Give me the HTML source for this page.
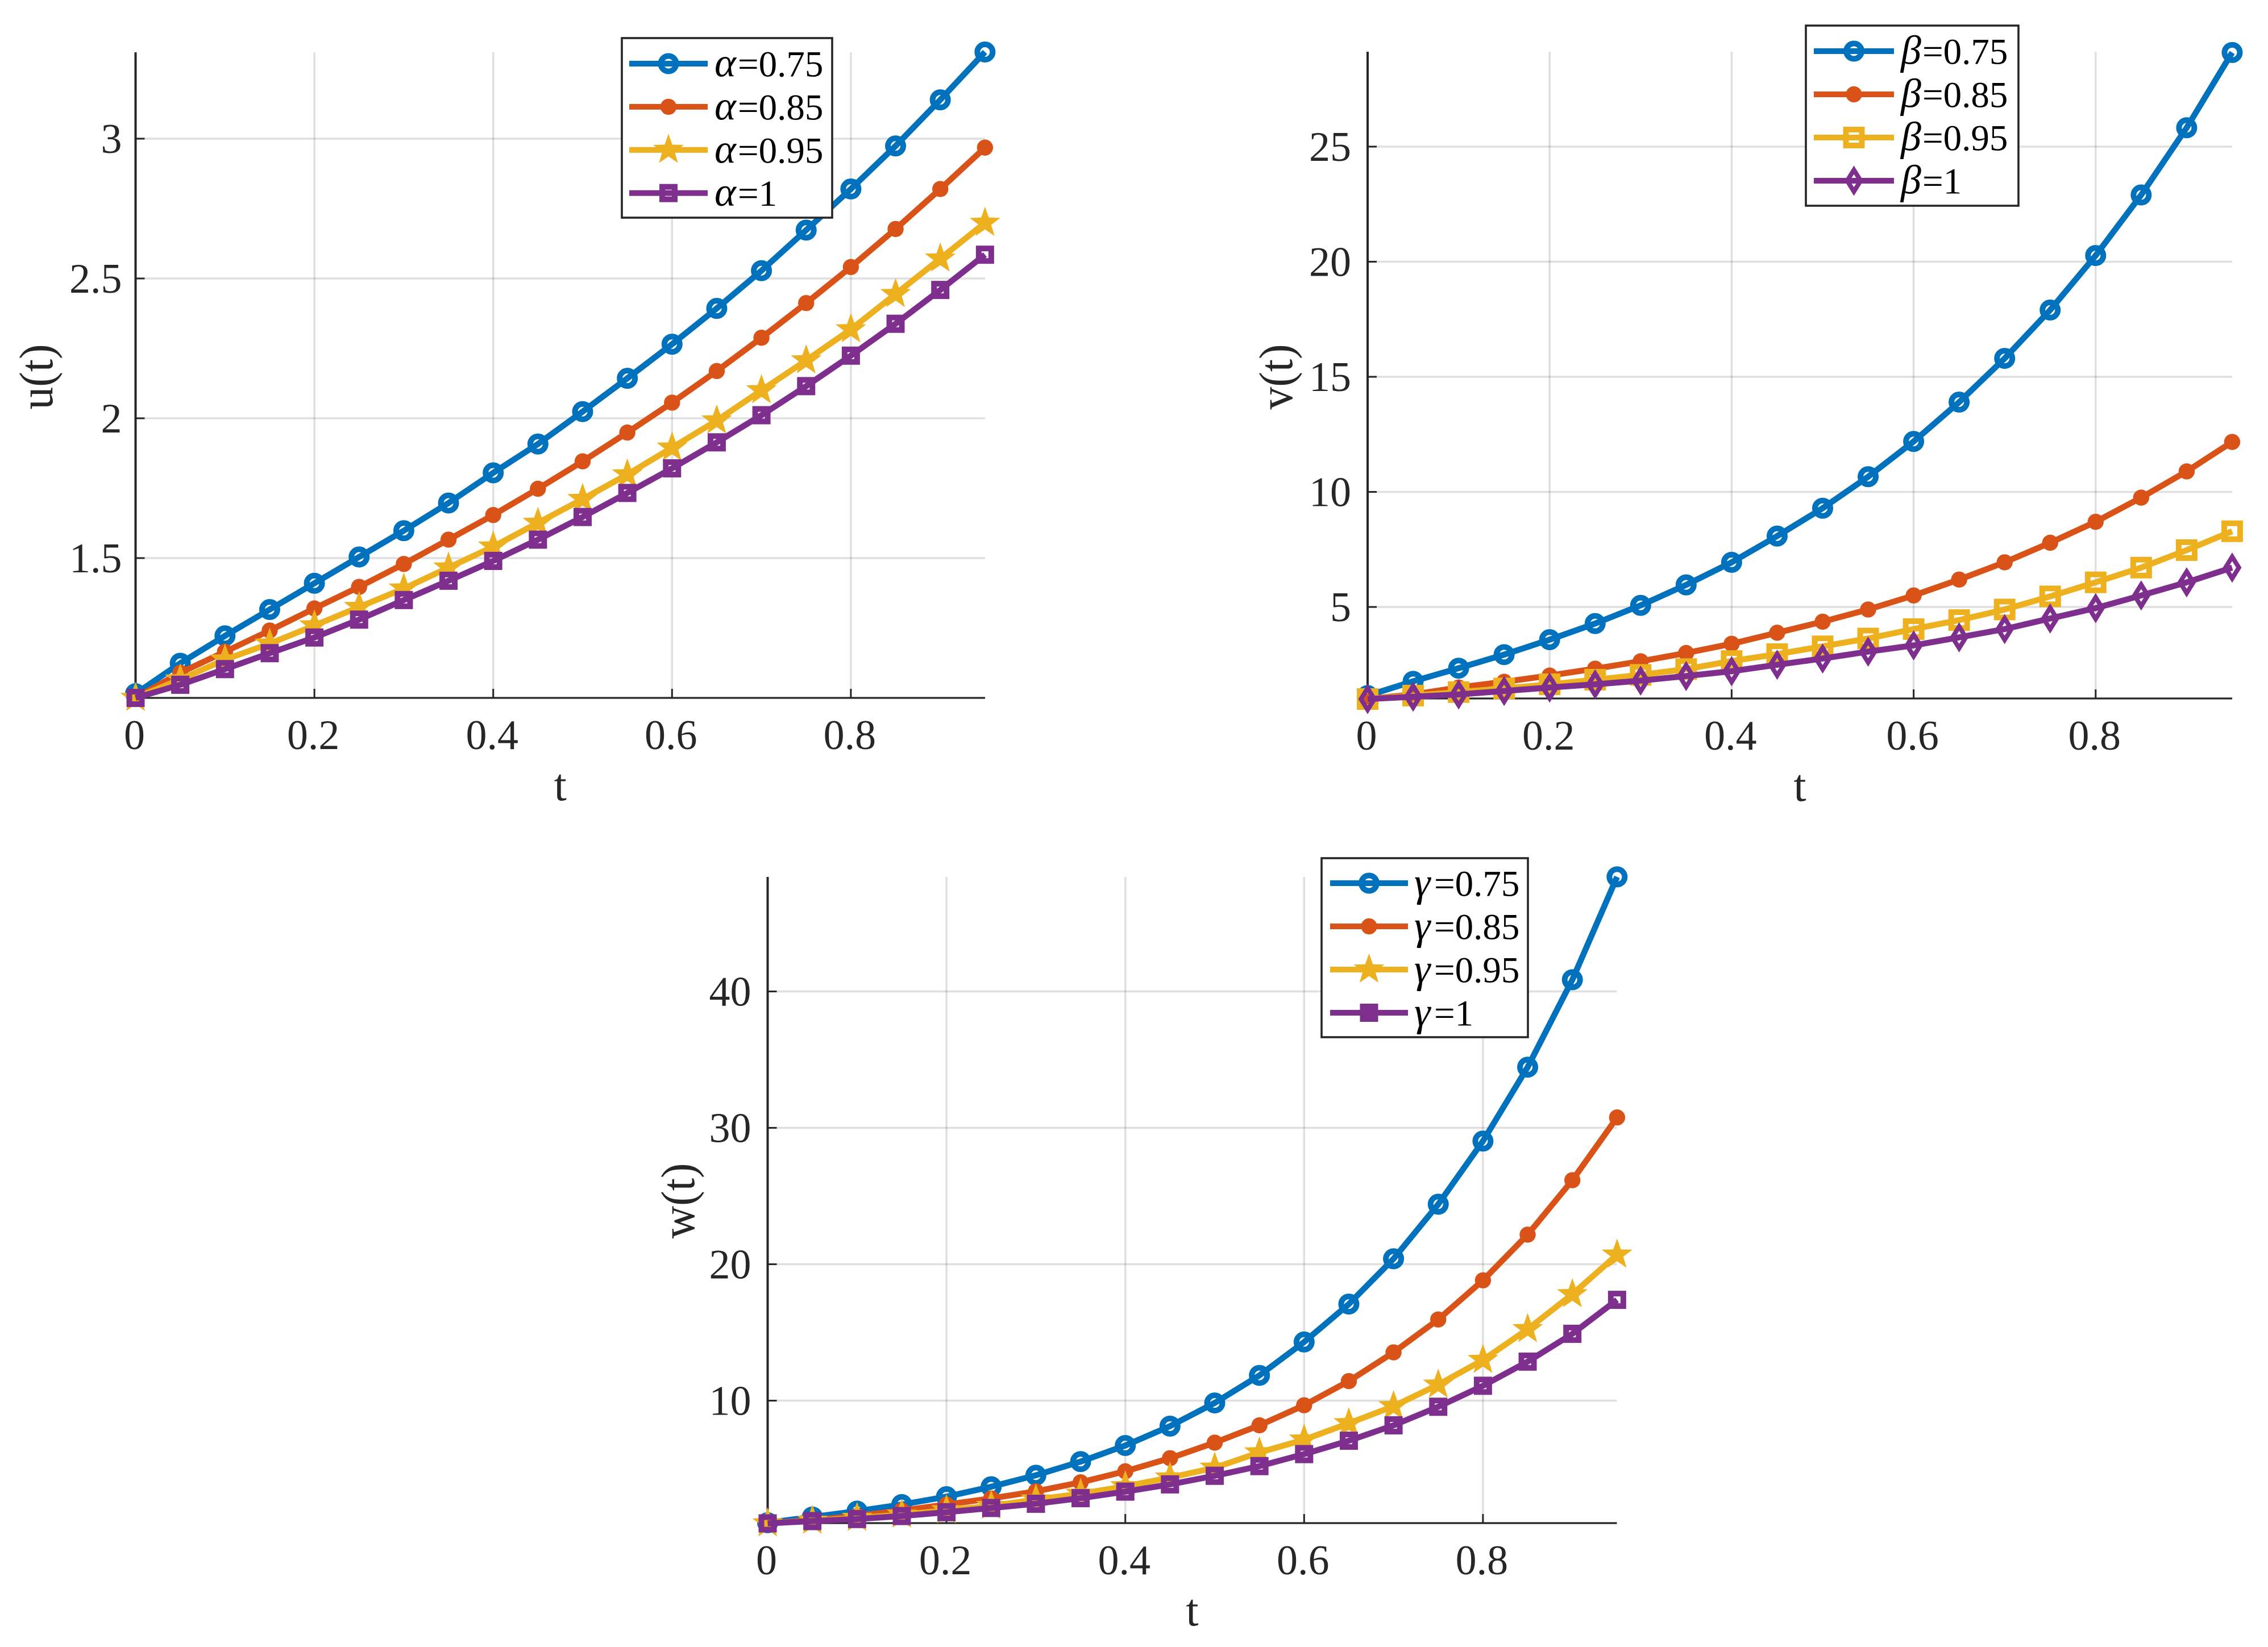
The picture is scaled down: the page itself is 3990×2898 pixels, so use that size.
<!DOCTYPE html>
<html lang="en">
<head>
<meta charset="utf-8">
<title>Fractional order solutions u(t), v(t), w(t)</title>
<style>
html,body{margin:0;padding:0;background:#fff;}
svg{display:block;font-family:"Liberation Serif",serif;}
</style>
</head>
<body>
<svg id="figure" xmlns="http://www.w3.org/2000/svg" width="3990" height="2898" viewBox="0 0 3990 2898"></svg>
<script>
const tValues = [0,0.05,0.1,0.15,0.2,0.25,0.3,0.35,0.4,0.45,0.5,0.55,0.6,0.65,0.7,0.75,0.8,0.85,0.9,0.95];
const xTickValues = [0,0.2,0.4,0.6,0.8];
const xTickLabels = ["0","0.2","0.4","0.6","0.8"];

const uTickValues = [1.5,2,2.5,3];
const uTickLabels = ["1.5","2","2.5","3"];
const vTickValues = [5,10,15,20,25];
const vTickLabels = ["5","10","15","20","25"];
const wTickValues = [10,20,30,40];
const wTickLabels = ["10","20","30","40"];

const uAlpha075 = [1.015,1.124,1.222,1.316,1.41,1.504,1.598,1.697,1.805,1.908,2.024,2.143,2.265,2.393,2.528,2.673,2.82,2.974,3.139,3.31];
const uAlpha085 = [1,1.09,1.165,1.241,1.32,1.397,1.479,1.566,1.654,1.748,1.846,1.949,2.056,2.169,2.288,2.412,2.541,2.677,2.82,2.968];
const uAlpha095 = [1,1.066,1.137,1.194,1.259,1.325,1.391,1.466,1.541,1.626,1.711,1.799,1.895,1.992,2.1,2.207,2.318,2.444,2.571,2.699];
const uAlpha100 = [1,1.047,1.103,1.16,1.216,1.28,1.35,1.419,1.49,1.566,1.647,1.733,1.821,1.914,2.011,2.115,2.224,2.338,2.459,2.585];

const vBeta075 = [1.15,1.77,2.34,2.93,3.58,4.28,5.07,5.96,6.94,8.08,9.29,10.66,12.19,13.9,15.8,17.9,20.27,22.9,25.82,29.09];
const vBeta085 = [1,1.2,1.5,1.75,2.02,2.32,2.64,3,3.4,3.88,4.36,4.89,5.5,6.19,6.94,7.79,8.7,9.75,10.89,12.17];
const vBeta095 = [1,1.15,1.3,1.46,1.64,1.84,2.05,2.3,2.65,2.95,3.29,3.63,4.04,4.43,4.89,5.46,6.07,6.71,7.47,8.29];
const vBeta100 = [1,1.1,1.2,1.35,1.5,1.64,1.8,2,2.21,2.49,2.76,3.06,3.33,3.68,4.04,4.5,4.95,5.5,6.07,6.71];

const wGamma075 = [1.05,1.47,1.9,2.38,2.96,3.69,4.53,5.53,6.71,8.13,9.83,11.85,14.3,17.08,20.4,24.4,29.03,34.45,40.86,48.4];
const wGamma085 = [1,1.25,1.55,1.95,2.38,2.83,3.35,4.01,4.82,5.78,6.92,8.19,9.66,11.43,13.54,15.95,18.82,22.17,26.16,30.76];
const wGamma095 = [1,1.19,1.4,1.64,1.96,2.28,2.75,3.17,3.72,4.36,5.08,6.2,7.14,8.34,9.59,11.17,12.98,15.24,17.8,20.7];
const wGamma100 = [1,1.17,1.32,1.54,1.82,2.13,2.44,2.85,3.33,3.86,4.49,5.2,6.08,7.06,8.19,9.55,11.09,12.86,14.9,17.39];

const COLORS = ["#0072BD","#D95319","#EDB120","#7E2F8E"];
const AXIS = "#262626";
const NS = "http://www.w3.org/2000/svg";
const root = document.getElementById("figure");

function make(tag, attrs, parent, text) {
  const n = document.createElementNS(NS, tag);
  for (const k in attrs) n.setAttribute(k, attrs[k]);
  if (text !== undefined) n.textContent = text;
  parent.appendChild(n);
  return n;
}

function drawMarker(parent, kind, x, y, color, size) {
  let m;
  if (kind === "circle") {
    m = make("circle", {cx:x, cy:y, r:13.5, fill:"none", stroke:color, "stroke-width":10}, parent);
  } else if (kind === "dot") {
    m = make("circle", {cx:x, cy:y, r:14.2, fill:color}, parent);
  } else if (kind === "star") {
    const pts = [];
    for (let i = 0; i < 10; i++) {
      const r = i % 2 ? 11.5 : 28.4;
      const a = -Math.PI / 2 + i * Math.PI / 5;
      pts.push((x + r * Math.cos(a)).toFixed(2) + "," + (y + r * Math.sin(a)).toFixed(2));
    }
    m = make("polygon", {points:pts.join(" "), fill:color}, parent);
  } else if (kind === "square") {
    const h = size || 11;
    m = make("rect", {x:x-h, y:y-h, width:2*h, height:2*h, fill:"none", stroke:color, "stroke-width":10}, parent);
  } else if (kind === "squareSolid") {
    m = make("rect", {x:x-16, y:y-16, width:32, height:32, fill:color}, parent);
  } else if (kind === "diamond") {
    const pts = [[x,y-19],[x+11.8,y],[x,y+19],[x-11.8,y]].map(p => p.join(",")).join(" ");
    m = make("polygon", {points:pts, fill:"none", stroke:color, "stroke-width":8, "stroke-miterlimit":10}, parent);
  }
  return m;
}

function drawPanel(cfg) {
  const xScale = v => cfg.left + v * cfg.xUnit;
  const yScale = v => cfg.refY - (v - cfg.refV) * cfg.yUnit;

  const g = make("g", {}, root);
  
  

  const grid = make("g", {stroke:"rgba(38,38,38,0.15)", "stroke-width":3.5}, g);
  
  
  xTickValues.forEach(v => {
    if (v === 0) return;
    const gl = make("line", {x1:xScale(v), x2:xScale(v), y1:cfg.top, y2:cfg.bottom}, grid);
    
    
  });
  cfg.yTicks.forEach(v => {
    const gl = make("line", {x1:cfg.left, x2:cfg.right, y1:yScale(v), y2:yScale(v)}, grid);
    
    
  });

  const yAxis = make("line", {x1:cfg.left, x2:cfg.left, y1:cfg.top, y2:cfg.bottom+1.5, stroke:AXIS, "stroke-width":4}, g);
  
  
  const xAxis = make("line", {x1:cfg.left, x2:cfg.right, y1:cfg.bottom, y2:cfg.bottom, stroke:AXIS, "stroke-width":3.2}, g);
  
  

  xTickValues.forEach((v, i) => {
    const tick = make("line", {x1:xScale(v), x2:xScale(v), y1:cfg.bottom, y2:cfg.bottom-16, stroke:AXIS, "stroke-width":3}, g);
    
    
    const lab = make("text", {x:xScale(v)-2, y:cfg.bottom+90, "text-anchor":"middle", "font-size":74, fill:AXIS}, g, xTickLabels[i]);
    
    
  });
  cfg.yTicks.forEach((v, i) => {
    const tick = make("line", {x1:cfg.left, x2:cfg.left+16, y1:yScale(v), y2:yScale(v), stroke:AXIS, "stroke-width":3}, g);
    
    
    const lab = make("text", {x:cfg.left-cfg.yLabelGap, y:yScale(v)+25, "text-anchor":"end", "font-size":74, fill:AXIS}, g, cfg.yLabels[i]);
    
    
  });

  const xTitle = make("text", {x:(cfg.left+cfg.right)/2, y:cfg.bottom+180, "text-anchor":"middle", "font-size":80, fill:AXIS}, g, "t");
  
  
  const yTitle = make("text", {transform:"translate(" + cfg.yTitleX + " " + cfg.yTitleY + ") rotate(-90) scale(0.95 1)", "text-anchor":"middle", "font-size":84, fill:AXIS}, g, cfg.yTitle);
  
  

  cfg.series.forEach((values, s) => {
    const sg = make("g", {}, g);
    
    
    const pts = values.map((v, i) => xScale(tValues[i]).toFixed(2) + "," + yScale(v).toFixed(2)).join(" ");
    const line = make("polyline", {points:pts, fill:"none", stroke:COLORS[s], "stroke-width":10.5, "stroke-linejoin":"round"}, sg);
    
    
    values.forEach((v, i) => {
      const m = drawMarker(sg, cfg.markers[s], xScale(tValues[i]), yScale(v), COLORS[s], cfg.sizes && cfg.sizes[s]);
      
      
    });
  });

  const L = cfg.legend;
  const lg = make("g", {}, g);
  
  
  const box = make("rect", {x:L.x, y:L.y, width:L.w, height:L.h, fill:"#fff", stroke:AXIS, "stroke-width":3.6}, lg);
  
  
  cfg.legendLabels.forEach((lab, s) => {
    const y = L.rowY + s * L.rowStep;
    const entry = make("g", {}, lg);
    
    
    make("rect", {x:L.lineX1, y:y-5, width:L.lineX2-L.lineX1, height:10, fill:COLORS[s]}, entry);
    drawMarker(entry, L.markers ? L.markers[s] : cfg.markers[s], (L.lineX1+L.lineX2)/2, y, COLORS[s], cfg.sizes && cfg.sizes[s]);
    const t = make("text", {y:y+22.5, "font-size":65, fill:"#000"}, entry);
    make("tspan", {x:L.symX, "font-style":"italic", "font-size":72}, t, L.symbol);
    make("tspan", {x:L.eqX}, t, lab);
  });
}

drawPanel({
  name:"u-plot", left:238.5, right:1733, xUnit:1573, top:92, bottom:1228, refV:1.5, refY:982, yUnit:492,
  yTicks:uTickValues, yLabels:uTickLabels, yLabelGap:24, yTitle:"u(t)", yTitleX:92, yTitleY:663,
  series:[uAlpha075,uAlpha085,uAlpha095,uAlpha100],
  markers:["circle","dot","star","square"], sizes:[0,0,0,11],
  legendLabels:["=0.75","=0.85","=0.95","=1"],
  legend:{x:1094,y:67,w:370,h:316,rowY:112,rowStep:75.9,lineX1:1107,lineX2:1245,symX:1257,eqX:1298,symbol:"\u03B1"}
});
drawPanel({
  name:"v-plot", left:2406, right:3927, xUnit:1601, top:91, bottom:1229, refV:5, refY:1068, yUnit:40.5,
  yTicks:vTickValues, yLabels:vTickLabels, yLabelGap:29, yTitle:"v(t)", yTitleX:2273, yTitleY:663,
  series:[vBeta075,vBeta085,vBeta095,vBeta100],
  markers:["circle","dot","square","diamond"], sizes:[0,0,14,0],
  legendLabels:["=0.75","=0.85","=0.95","=1"],
  legend:{x:3177,y:45,w:374,h:317,rowY:90,rowStep:76,lineX1:3191,lineX2:3332,symX:3344,eqX:3382,symbol:"\u03B2"}
});
drawPanel({
  name:"w-plot", left:1350.5, right:2844.5, xUnit:1573, top:1543, bottom:2680, refV:10, refY:2464.5, yUnit:24,
  yTicks:wTickValues, yLabels:wTickLabels, yLabelGap:29, yTitle:"w(t)", yTitleX:1221, yTitleY:2113,
  series:[wGamma075,wGamma085,wGamma095,wGamma100],
  markers:["circle","dot","star","square"], sizes:[0,0,0,11],
  legendLabels:["=0.75","=0.85","=0.95","=1"],
  legend:{x:2325,y:1510,w:363,h:315,rowY:1554,rowStep:76,lineX1:2340,lineX2:2477,symX:2488,eqX:2523,symbol:"\u03B3",markers:["circle","dot","star","squareSolid"]}
});
</script>
</body>
</html>
